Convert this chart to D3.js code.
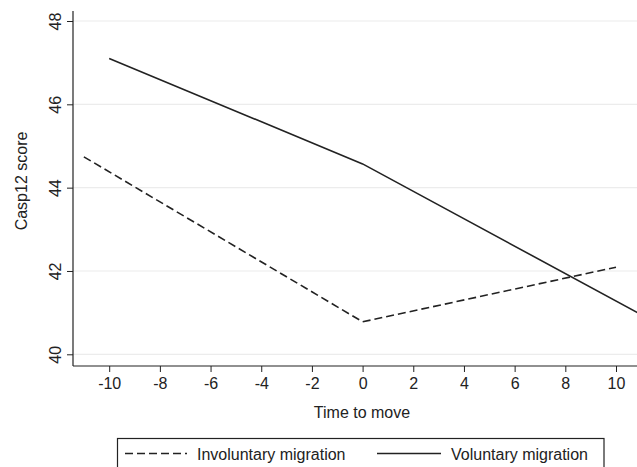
<!DOCTYPE html>
<html>
<head>
<meta charset="utf-8">
<script src="https://cdn.jsdelivr.net/npm/d3@7"></script>
<style>
  body { margin: 0; background: #fff; }
  text { font-family: "Liberation Sans", Arial, sans-serif; fill: #222; }
</style>
</head>
<body>
<script>
let w = 637;
let h = 467;

// data
let xTicks = [-10, -8, -6, -4, -2, 0, 2, 4, 6, 8, 10];
let yTicks = [40, 42, 44, 46, 48];
let involuntaryTime = [-11, 0, 10];
let involuntaryScore = [44.74, 40.78, 42.09];
let voluntaryTime = [-10, 0, 11];
let voluntaryScore = [47.1, 44.57, 40.95];
let seriesNames = ["Involuntary migration", "Voluntary migration"];

let svg = d3.select("body").append("svg").attr("width", w).attr("height", h);

let xScale = d3.scaleLinear().domain([-10, 10]).range([109.2, 616]);
let yScale = d3.scaleLinear().domain([40, 48]).range([354.3, 21]);

let left = 73;
let bottom = 366;

// grid
svg
  .append("g")
  .selectAll("line")
  .data(yTicks)
  .enter()
  .append("line")
  .attr("x1", left)
  .attr("x2", w)
  .attr("y1", (d) => yScale(d))
  .attr("y2", (d) => yScale(d))
  .attr("stroke", "#ececec")
  .attr("stroke-width", 1.2);

// lines
let line = d3
  .line()
  .x((d) => xScale(d[0]))
  .y((d) => yScale(d[1]));

svg
  .append("path")
  .datum(d3.zip(involuntaryTime, involuntaryScore))
  .attr("d", line)
  .attr("fill", "none")
  .attr("stroke", "#222")
  .attr("stroke-width", 1.6)
  .attr("stroke-dasharray", "8,4");

svg
  .append("path")
  .datum(d3.zip(voluntaryTime, voluntaryScore))
  .attr("d", line)
  .attr("fill", "none")
  .attr("stroke", "#222")
  .attr("stroke-width", 1.6);

// axes
let x_axis = d3.axisBottom(xScale).tickValues(xTicks).tickSize(6).tickPadding(6);
let gx = svg
  .append("g")
  .attr("transform", "translate(0," + bottom + ")")
  .call(x_axis);
gx.select(".domain").remove();
gx.append("line")
  .attr("x1", left)
  .attr("x2", w)
  .attr("stroke", "#222")
  .attr("stroke-width", 1.2);
gx.selectAll(".tick line").attr("stroke", "#222");
gx.selectAll(".tick text")
  .style("font-size", "16px")
  .attr("fill", "#222")
  .text((d) => d);

let y_axis = d3.axisLeft(yScale).tickValues(yTicks).tickSize(6);
let gy = svg
  .append("g")
  .attr("transform", "translate(" + left + ",0)")
  .call(y_axis);
gy.select(".domain").remove();
gy.append("line")
  .attr("y1", 11)
  .attr("y2", bottom)
  .attr("stroke", "#222")
  .attr("stroke-width", 1.2);
gy.selectAll(".tick line").attr("stroke", "#222");
gy.selectAll(".tick text")
  .attr("x", null)
  .attr("dy", null)
  .attr("text-anchor", "middle")
  .attr("transform", "translate(-12.5,0) rotate(-90)")
  .style("font-size", "16px")
  .attr("fill", "#222");

// titles
svg
  .append("text")
  .attr("x", (left + w) / 2 + 7)
  .attr("y", 418)
  .attr("text-anchor", "middle")
  .style("font-size", "16px")
  .text("Time to move");

svg
  .append("text")
  .attr("transform", "translate(26.5," + 181 + ") rotate(-90)")
  .attr("text-anchor", "middle")
  .style("font-size", "16px")
  .text("Casp12 score");

// legend
let legend = svg.append("g");
legend
  .append("rect")
  .attr("x", 117.5)
  .attr("y", 438.5)
  .attr("width", 486.5)
  .attr("height", 40)
  .attr("fill", "none")
  .attr("stroke", "#222")
  .attr("stroke-width", 1.2);

let keys = [
  { x1: 125, x2: 187, tx: 197, dash: "8,4" },
  { x1: 377, x2: 441, tx: 451, dash: null },
];
keys.forEach((k, i) => {
  legend
    .append("line")
    .attr("x1", k.x1)
    .attr("x2", k.x2)
    .attr("y1", 453.5)
    .attr("y2", 453.5)
    .attr("stroke", "#222")
    .attr("stroke-width", 1.6)
    .attr("stroke-dasharray", k.dash);
  legend
    .append("text")
    .attr("x", k.tx)
    .attr("y", 459.5)
    .style("font-size", "16px")
    .text(seriesNames[i]);
});
</script>
</body>
</html>
